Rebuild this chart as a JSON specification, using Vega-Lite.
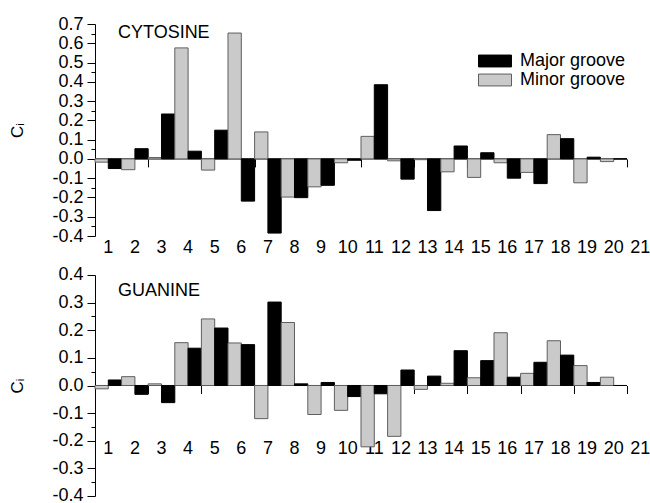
{
  "$schema": "https://vega.github.io/schema/vega-lite/v6.json",
  "description": "Ci contributions of cytosine and guanine in the major and minor grooves",
  "padding": {"left": 9, "top": 15, "right": 0, "bottom": 0},
  "datasets": {
    "cytosine": [
      {"pos": 1, "groove": "Minor groove", "c": -0.017}, {"pos": 1, "groove": "Major groove", "c": -0.05},
      {"pos": 2, "groove": "Minor groove", "c": -0.056}, {"pos": 2, "groove": "Major groove", "c": 0.053},
      {"pos": 3, "groove": "Minor groove", "c": 0.007}, {"pos": 3, "groove": "Major groove", "c": 0.233},
      {"pos": 4, "groove": "Minor groove", "c": 0.576}, {"pos": 4, "groove": "Major groove", "c": 0.04},
      {"pos": 5, "groove": "Minor groove", "c": -0.058}, {"pos": 5, "groove": "Major groove", "c": 0.149},
      {"pos": 6, "groove": "Minor groove", "c": 0.653}, {"pos": 6, "groove": "Major groove", "c": -0.219},
      {"pos": 7, "groove": "Minor groove", "c": 0.14}, {"pos": 7, "groove": "Major groove", "c": -0.385},
      {"pos": 8, "groove": "Minor groove", "c": -0.198}, {"pos": 8, "groove": "Major groove", "c": -0.201},
      {"pos": 9, "groove": "Minor groove", "c": -0.145}, {"pos": 9, "groove": "Major groove", "c": -0.137},
      {"pos": 10, "groove": "Minor groove", "c": -0.02}, {"pos": 10, "groove": "Major groove", "c": -0.007},
      {"pos": 11, "groove": "Minor groove", "c": 0.117}, {"pos": 11, "groove": "Major groove", "c": 0.385},
      {"pos": 12, "groove": "Minor groove", "c": -0.01}, {"pos": 12, "groove": "Major groove", "c": -0.105},
      {"pos": 13, "groove": "Minor groove", "c": -0.004}, {"pos": 13, "groove": "Major groove", "c": -0.268},
      {"pos": 14, "groove": "Minor groove", "c": -0.067}, {"pos": 14, "groove": "Major groove", "c": 0.067},
      {"pos": 15, "groove": "Minor groove", "c": -0.096}, {"pos": 15, "groove": "Major groove", "c": 0.032},
      {"pos": 16, "groove": "Minor groove", "c": -0.02}, {"pos": 16, "groove": "Major groove", "c": -0.1},
      {"pos": 17, "groove": "Minor groove", "c": -0.07}, {"pos": 17, "groove": "Major groove", "c": -0.128},
      {"pos": 18, "groove": "Minor groove", "c": 0.126}, {"pos": 18, "groove": "Major groove", "c": 0.105},
      {"pos": 19, "groove": "Minor groove", "c": -0.124}, {"pos": 19, "groove": "Major groove", "c": 0.009},
      {"pos": 20, "groove": "Minor groove", "c": -0.014}, {"pos": 20, "groove": "Major groove", "c": 0}
    ],
    "guanine": [
      {"pos": 1, "groove": "Minor groove", "c": -0.012}, {"pos": 1, "groove": "Major groove", "c": 0.02},
      {"pos": 2, "groove": "Minor groove", "c": 0.032}, {"pos": 2, "groove": "Major groove", "c": -0.032},
      {"pos": 3, "groove": "Minor groove", "c": 0.006}, {"pos": 3, "groove": "Major groove", "c": -0.062},
      {"pos": 4, "groove": "Minor groove", "c": 0.155}, {"pos": 4, "groove": "Major groove", "c": 0.135},
      {"pos": 5, "groove": "Minor groove", "c": 0.241}, {"pos": 5, "groove": "Major groove", "c": 0.208},
      {"pos": 6, "groove": "Minor groove", "c": 0.154}, {"pos": 6, "groove": "Major groove", "c": 0.148},
      {"pos": 7, "groove": "Minor groove", "c": -0.12}, {"pos": 7, "groove": "Major groove", "c": 0.302},
      {"pos": 8, "groove": "Minor groove", "c": 0.228}, {"pos": 8, "groove": "Major groove", "c": 0.006},
      {"pos": 9, "groove": "Minor groove", "c": -0.105}, {"pos": 9, "groove": "Major groove", "c": 0.011},
      {"pos": 10, "groove": "Minor groove", "c": -0.09}, {"pos": 10, "groove": "Major groove", "c": -0.04},
      {"pos": 11, "groove": "Minor groove", "c": -0.222}, {"pos": 11, "groove": "Major groove", "c": -0.03},
      {"pos": 12, "groove": "Minor groove", "c": -0.184}, {"pos": 12, "groove": "Major groove", "c": 0.056},
      {"pos": 13, "groove": "Minor groove", "c": -0.014}, {"pos": 13, "groove": "Major groove", "c": 0.034},
      {"pos": 14, "groove": "Minor groove", "c": 0.008}, {"pos": 14, "groove": "Major groove", "c": 0.126},
      {"pos": 15, "groove": "Minor groove", "c": 0.028}, {"pos": 15, "groove": "Major groove", "c": 0.09},
      {"pos": 16, "groove": "Minor groove", "c": 0.191}, {"pos": 16, "groove": "Major groove", "c": 0.03},
      {"pos": 17, "groove": "Minor groove", "c": 0.044}, {"pos": 17, "groove": "Major groove", "c": 0.084},
      {"pos": 18, "groove": "Minor groove", "c": 0.162}, {"pos": 18, "groove": "Major groove", "c": 0.11},
      {"pos": 19, "groove": "Minor groove", "c": 0.072}, {"pos": 19, "groove": "Major groove", "c": 0.011},
      {"pos": 20, "groove": "Minor groove", "c": 0.03}, {"pos": 20, "groove": "Major groove", "c": 0}
    ]
  },
  "spacing": 39,
  "bounds": "flush",
  "vconcat": [
    {
      "width": 558.6,
      "height": 212,
      "layer": [
        {
          "data": {"values": [{"base": "CYTOSINE"}]},
          "layer": [
            {
              "mark": {"type": "rule", "color": "black", "strokeWidth": 1},
              "encoding": {
                "x": {"datum": 0.5, "type": "quantitative",
                      "scale": {"domain": [0.5, 21.5], "nice": false, "zero": false},
                      "axis": {"orient": "bottom", "values": [0.5, 1.5, 2.5, 3.5, 4.5, 5.5, 6.5, 7.5, 8.5, 9.5, 10.5, 11.5, 12.5, 13.5, 14.5, 15.5, 16.5, 17.5, 18.5, 19.5, 20.5],
                               "offset": -77.1, "domain": false, "labels": false, "tickSize": 8, "title": null}},
                "x2": {"datum": 20.5},
                "y": {"datum": 0, "type": "quantitative",
                      "axis": {"orient": "left", "values": [-0.35, -0.25, -0.15, -0.05, 0.05, 0.15, 0.25, 0.35, 0.45, 0.55, 0.65],
                               "labels": false, "domain": false, "tickSize": 4, "title": null}}
              }
            },
            {
              "mark": {"type": "text", "align": "left", "baseline": "alphabetic", "fontSize": 18, "font": "Liberation Sans", "color": "black"},
              "encoding": {
                "x": {"datum": 1.365, "type": "quantitative"},
                "y": {"datum": 0.627, "type": "quantitative"},
                "text": {"field": "base"}
              }
            }
          ]
        },
        {
          "data": {"name": "cytosine"},
          "mark": {"type": "bar", "strokeWidth": 1},
          "encoding": {
            "x": {"field": "pos", "type": "ordinal",
                  "scale": {"domain": [1, 2, 3, 4, 5, 6, 7, 8, 9, 10, 11, 12, 13, 14, 15, 16, 17, 18, 19, 20, 21], "paddingInner": 0, "paddingOuter": 0},
                  "axis": {"orient": "bottom", "title": null, "labelAngle": 0, "ticks": false, "domain": false, "labelPadding": 3, "offset": 0}},
            "xOffset": {"field": "groove", "type": "nominal",
                        "scale": {"domain": ["Minor groove", "Major groove"], "paddingInner": 0, "paddingOuter": 0}},
            "y": {"field": "c", "type": "quantitative",
                  "scale": {"domain": [-0.4, 0.7], "nice": false, "zero": false},
                  "axis": {"orient": "left", "values": [-0.4, -0.3, -0.2, -0.1, 0, 0.1, 0.2, 0.3, 0.4, 0.5, 0.6, 0.7],
                           "labelExpr": "replace(format(datum.value, '.1f'), '\u2212', '-')",
                           "tickSize": 8, "labelPadding": 4, "title": "C\u1d62", "titleX": -72, "titleBaseline": "alphabetic"}},
            "fill": {"field": "groove", "type": "nominal",
                     "scale": {"domain": ["Major groove", "Minor groove"], "range": ["#000000", "#cacaca"]},
                     "legend": {"title": null, "orient": "none", "legendX": 383, "legendY": 29,
                                "symbolType": "M-1,-0.36H1V0.36H-1Z", "symbolSize": 1089, "symbolStrokeWidth": 1,
                                "clipHeight": 16, "labelOffset": 8, "rowPadding": 1, "padding": 0}},
            "stroke": {"field": "groove", "type": "nominal",
                       "scale": {"domain": ["Major groove", "Minor groove"], "range": ["#000000", "#5e5e5e"]}}
          }
        }
      ],
      "resolve": {"scale": {"x": "independent"}, "axis": {"y": "independent"}}
    },
    {
      "width": 558.6,
      "height": 221,
      "layer": [
        {
          "data": {"values": [{"base": "GUANINE"}]},
          "layer": [
            {
              "mark": {"type": "rule", "color": "black", "strokeWidth": 1},
              "encoding": {
                "x": {"datum": 0.5, "type": "quantitative",
                      "scale": {"domain": [0.5, 21.5], "nice": false, "zero": false},
                      "axis": {"orient": "bottom", "values": [0.5, 1.5, 2.5, 3.5, 4.5, 5.5, 6.5, 7.5, 8.5, 9.5, 10.5, 11.5, 12.5, 13.5, 14.5, 15.5, 16.5, 17.5, 18.5, 19.5, 20.5],
                               "offset": -110.5, "domain": false, "labels": false, "tickSize": 8, "title": null}},
                "x2": {"datum": 20.5},
                "y": {"datum": 0, "type": "quantitative",
                      "axis": {"orient": "left", "values": [-0.35, -0.25, -0.15, -0.05, 0.05, 0.15, 0.25, 0.35],
                               "labels": false, "domain": false, "tickSize": 4, "title": null}}
              }
            },
            {
              "mark": {"type": "text", "align": "left", "baseline": "alphabetic", "fontSize": 18, "font": "Liberation Sans", "color": "black"},
              "encoding": {
                "x": {"datum": 1.365, "type": "quantitative"},
                "y": {"datum": 0.324, "type": "quantitative"},
                "text": {"field": "base"}
              }
            }
          ]
        },
        {
          "data": {"name": "guanine"},
          "mark": {"type": "bar", "strokeWidth": 1},
          "encoding": {
            "x": {"field": "pos", "type": "ordinal",
                  "scale": {"domain": [1, 2, 3, 4, 5, 6, 7, 8, 9, 10, 11, 12, 13, 14, 15, 16, 17, 18, 19, 20, 21], "paddingInner": 0, "paddingOuter": 0},
                  "axis": {"orient": "bottom", "title": null, "labelAngle": 0, "ticks": false, "domain": false, "labelPadding": 1, "offset": -57}},
            "xOffset": {"field": "groove", "type": "nominal",
                        "scale": {"domain": ["Minor groove", "Major groove"], "paddingInner": 0, "paddingOuter": 0}},
            "y": {"field": "c", "type": "quantitative",
                  "scale": {"domain": [-0.4, 0.4], "nice": false, "zero": false},
                  "axis": {"orient": "left", "values": [-0.4, -0.3, -0.2, -0.1, 0, 0.1, 0.2, 0.3, 0.4],
                           "labelExpr": "replace(format(datum.value, '.1f'), '\u2212', '-')",
                           "tickSize": 8, "labelPadding": 4, "title": "C\u1d62", "titleX": -72, "titleBaseline": "alphabetic"}},
            "fill": {"field": "groove", "type": "nominal",
                     "scale": {"domain": ["Major groove", "Minor groove"], "range": ["#000000", "#cacaca"]},
                     "legend": null},
            "stroke": {"field": "groove", "type": "nominal",
                       "scale": {"domain": ["Major groove", "Minor groove"], "range": ["#000000", "#5e5e5e"]},
                       "legend": null}
          }
        }
      ],
      "resolve": {"scale": {"x": "independent"}, "axis": {"y": "independent"}}
    }
  ],
  "resolve": {"scale": {"fill": "independent", "stroke": "independent"}},
  "config": {
    "font": "Liberation Sans",
    "view": {"stroke": null},
    "axis": {"grid": false, "labelFont": "Liberation Sans", "labelFontSize": 18, "labelColor": "black",
             "domainColor": "black", "tickColor": "black", "domainWidth": 1, "tickWidth": 1,
             "titleFont": "Liberation Sans", "titleFontSize": 17, "titleFontWeight": "normal", "titleColor": "black"},
    "legend": {"labelFont": "Liberation Sans", "labelFontSize": 18, "labelColor": "black"}
  }
}
